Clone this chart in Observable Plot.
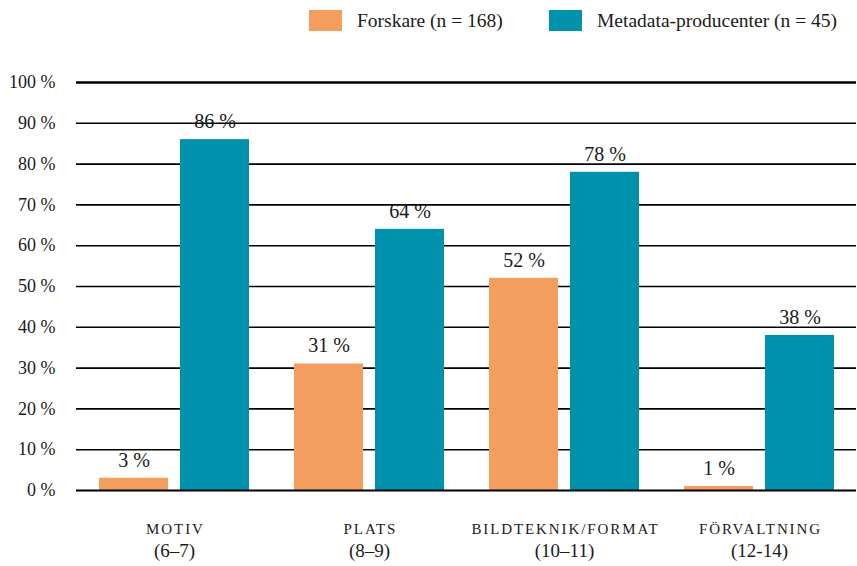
<!DOCTYPE html>
<html><head><meta charset="utf-8">
<script src="https://cdn.jsdelivr.net/npm/d3@7"></script>
<script src="https://cdn.jsdelivr.net/npm/@observablehq/plot@0.6"></script>
<style>
body{margin:0;background:#fff;font-family:"Liberation Serif","Times New Roman",serif;}
#legend{position:relative;height:40px;width:857px;}
.item{position:absolute;top:10px;height:21px;display:flex;align-items:center;font-size:19.5px;color:#1a1a1a;white-space:nowrap;}
.sw{width:33px;height:21px;margin-right:15px;flex:none;}
#chart svg text{font-family:"Liberation Serif","Times New Roman",serif;}
#chart svg g[font-size="15"], #chart svg g[font-size="15"] text{letter-spacing:1.9px;}
</style></head><body>
<div id="legend"></div><div id="chart"></div>
<script>
const categories = ["MOTIV", "PLATS", "BILDTEKNIK/FORMAT", "FÖRVALTNING"];
const ranges = ["(6–7)", "(8–9)", "(10–11)", "(12-14)"];
const forskare = [3, 31, 52, 1];
const metadata = [86, 64, 78, 38];
const seriesNames = ["Forskare (n = 168)", "Metadata-producenter (n = 45)"];
const colors = ["#F39D5E", "#0091AC"];
const yTicks = [0, 10, 20, 30, 40, 50, 60, 70, 80, 90, 100];

const rowsF = categories.map((c, i) => ({cat: c, value: forskare[i]}));
const rowsM = categories.map((c, i) => ({cat: c, value: metadata[i]}));
const labelRows = categories.map((c, i) => ({cat: c, range: ranges[i]}));

// legend
const legend = document.getElementById("legend");
const legendLeft = [309, 549];
seriesNames.forEach((name, i) => {
  const item = document.createElement("div");
  item.className = "item";
  item.style.left = legendLeft[i] + "px";
  const sw = document.createElement("div");
  sw.className = "sw";
  sw.style.background = colors[i];
  const t = document.createElement("span");
  t.textContent = name;
  item.appendChild(sw);
  item.appendChild(t);
  legend.appendChild(item);
});

const chart = Plot.plot({
  width: 857,
  height: 526,
  marginTop: 42,
  marginBottom: 76,
  marginLeft: 76,
  marginRight: 1,
  style: {fontFamily: "'Liberation Serif', 'Times New Roman', serif", fontSize: "16px", color: "#1a1a1a", background: "#fff", overflow: "visible"},
  x: {domain: categories, paddingInner: 0.2308, paddingOuter: 0.1154, axis: null},
  y: {domain: [0, 100], axis: null},
  marks: [
    Plot.ruleY(yTicks.filter(t => t > 0 && t < 100), {stroke: "#000", strokeWidth: 1.6}),
    Plot.ruleY([100], {stroke: "#000", strokeWidth: 2.6}),
    Plot.axisY({ticks: yTicks, tickSize: 0, tickPadding: 21, tickFormat: d => d + " %", fontSize: 18, fill: "#1a1a1a", label: null}),
    Plot.barY(rowsF, {x: "cat", y: "value", fill: colors[0], insetLeft: 0, insetRight: 81}),
    Plot.barY(rowsM, {x: "cat", y: "value", fill: colors[1], insetLeft: 81, insetRight: 0}),
    Plot.ruleY([0], {stroke: "#000", strokeWidth: 2}),
    Plot.text(rowsF, {x: "cat", y: "value", text: d => d.value + " %", dx: -40.5, dy: -18, fontSize: 20, fill: "#1a1a1a"}),
    Plot.text(rowsM, {x: "cat", y: "value", text: d => d.value + " %", dx: 40.5, dy: -18, fontSize: 20, fill: "#1a1a1a"}),
    Plot.text(labelRows, {x: "cat", text: "cat", frameAnchor: "bottom", dy: 43, dx: 0.95, fontSize: 15, fill: "#1a1a1a"}),
    Plot.text(labelRows, {x: "cat", text: "range", frameAnchor: "bottom", dy: 66, fontSize: 19, fill: "#1a1a1a"})
  ]
});
document.getElementById("chart").appendChild(chart);
</script>
</body></html>
